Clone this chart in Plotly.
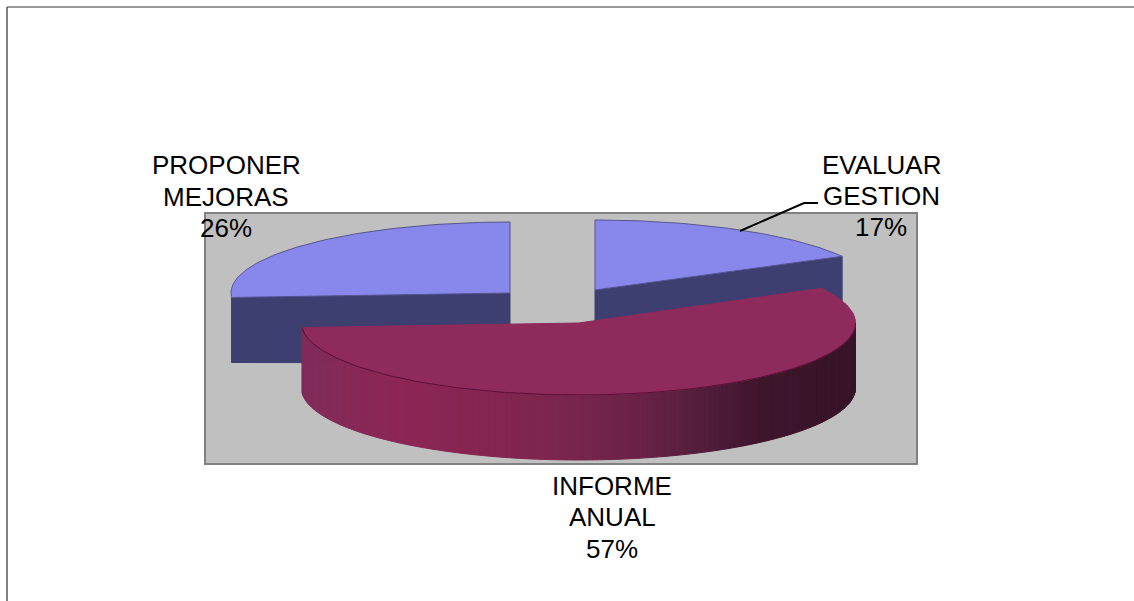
import numpy as np
import plotly.graph_objects as go

# Data
categories = ["EVALUAR GESTION", "INFORME ANUAL", "PROPONER MEJORAS"]
values = [17, 57, 26]
label_lines = [["EVALUAR", "GESTION", "17%"], ["INFORME", "ANUAL", "57%"], ["PROPONER", "MEJORAS", "26%"]]

# Layout geometry of the exploded tilted pie (pixel canvas)
W, H = 1134, 601
centres_x = [595, 578.5, 510]
centres_y = [290, 323, 293]
radii_x = [282, 277, 279]
radii_y = [70, 72, 71]
depth = 65
label_x = [881, 612, 226]
label_y = [[165, 196, 227], [486, 517, 549], [165, 197, 228]]

TOP_BLUE = "#8888ec"
WALL_BLUE = "#3c3f70"
TOP_RED = "#8f2a5c"
wall_stops_x = [302, 400, 480, 560, 640, 700, 760, 856]
wall_stops_rgb = [(128, 44, 90), (140, 38, 86), (134, 37, 80), (122, 38, 78),
                  (106, 34, 72), (84, 30, 60), (62, 22, 44), (56, 20, 40)]

# Slice angles from the values (clockwise from 12 o'clock)
bounds = np.radians(np.concatenate([[0], np.cumsum(values)]) * 3.6)


def arc(i, t0, t1, n=90, dy=0):
    t = np.linspace(t0, t1, n)
    return centres_x[i] + radii_x[i] * np.sin(t), centres_y[i] - radii_y[i] * np.cos(t) + dy


def poly(x, y, fill, line=None, width=1):
    return go.Scatter(x=list(x), y=list(y), mode="lines", fill="toself", fillcolor=fill,
                      line=dict(color=line or fill, width=width), hoverinfo="skip", showlegend=False)


fig = go.Figure()

# Left slice (PROPONER MEJORAS): cut face, then top
i = 2
ax, ay = arc(i, bounds[2], bounds[3])
fig.add_trace(poly([ax[0], centres_x[i], centres_x[i], ax[0], ax[0]],
                   [ay[0], centres_y[i], centres_y[i] + depth + 5, ay[0] + depth, ay[0]], WALL_BLUE))
fig.add_trace(poly(np.r_[centres_x[i], ax, centres_x[i]], np.r_[centres_y[i], ay, centres_y[i]], TOP_BLUE, "#55558f"))

# Right slice (EVALUAR GESTION): cut face, then top
i = 0
ax, ay = arc(i, bounds[0], bounds[1])
fig.add_trace(poly([centres_x[i], ax[-1], ax[-1], centres_x[i], centres_x[i]],
                   [centres_y[i], ay[-1], ay[-1] + depth, centres_y[i] + depth, centres_y[i]], WALL_BLUE))
fig.add_trace(poly(np.r_[centres_x[i], ax, centres_x[i]], np.r_[centres_y[i], ay, centres_y[i]], TOP_BLUE, "#55558f"))

# Main slice (INFORME ANUAL): shaded outer wall, then top, then front rim
i = 1
edges = np.linspace(bounds[2], np.pi / 2, 181)
for t0, t1 in zip(edges[:-1], edges[1:]):
    ax, ay = arc(i, t0, t1, n=2)
    mid = ax.mean()
    rgb = [np.interp(mid, wall_stops_x, [c[k] for c in wall_stops_rgb]) for k in range(3)]
    colour = "rgb({:.0f},{:.0f},{:.0f})".format(*rgb)
    fig.add_trace(poly(np.r_[ax, ax[::-1], ax[0]], np.r_[ay, ay[::-1] + depth, ay[0]], colour))
ax, ay = arc(i, bounds[1], bounds[2], n=160)
fig.add_trace(poly(np.r_[centres_x[i], ax, centres_x[i]], np.r_[centres_y[i], ay, centres_y[i]], TOP_RED))
rx, ry = arc(i, np.pi / 2, bounds[2], n=120)
fig.add_trace(go.Scatter(x=list(rx), y=list(ry), mode="lines", line=dict(color="#5c0f38", width=1),
                         hoverinfo="skip", showlegend=False))

# Labels, one annotation per line for the original leading
for cx, ys, lines in zip(label_x, label_y, label_lines):
    for y, text in zip(ys, lines):
        fig.add_annotation(x=cx, y=y, text=text, showarrow=False, xanchor="center", yanchor="middle",
                           font=dict(family="Liberation Sans", size=26, color="#000000"))

shapes = [
    dict(type="rect", x0=205, x1=917, y0=213, y1=464, fillcolor="#c0c0c0",
         line=dict(color="#808080", width=2), layer="below"),
    dict(type="line", x0=7, x1=W, y0=7, y1=7, line=dict(color="#333333", width=1), layer="below"),
    dict(type="line", x0=7, x1=7, y0=7, y1=H, line=dict(color="#555555", width=1.5), layer="below"),
    dict(type="path", path="M 740 231 L 804 203 L 818 203", line=dict(color="#000000", width=2), layer="above"),
]

fig.update_layout(
    width=W, height=H, autosize=False, margin=dict(l=0, r=0, t=0, b=0),
    paper_bgcolor="#ffffff", plot_bgcolor="#ffffff", showlegend=False, shapes=shapes,
    xaxis=dict(range=[0, W], visible=False, fixedrange=True),
    yaxis=dict(range=[H, 0], visible=False, fixedrange=True),
)
fig.write_html("out.html", post_script="document.body.style.margin='0';", config=dict(displayModeBar=False))
